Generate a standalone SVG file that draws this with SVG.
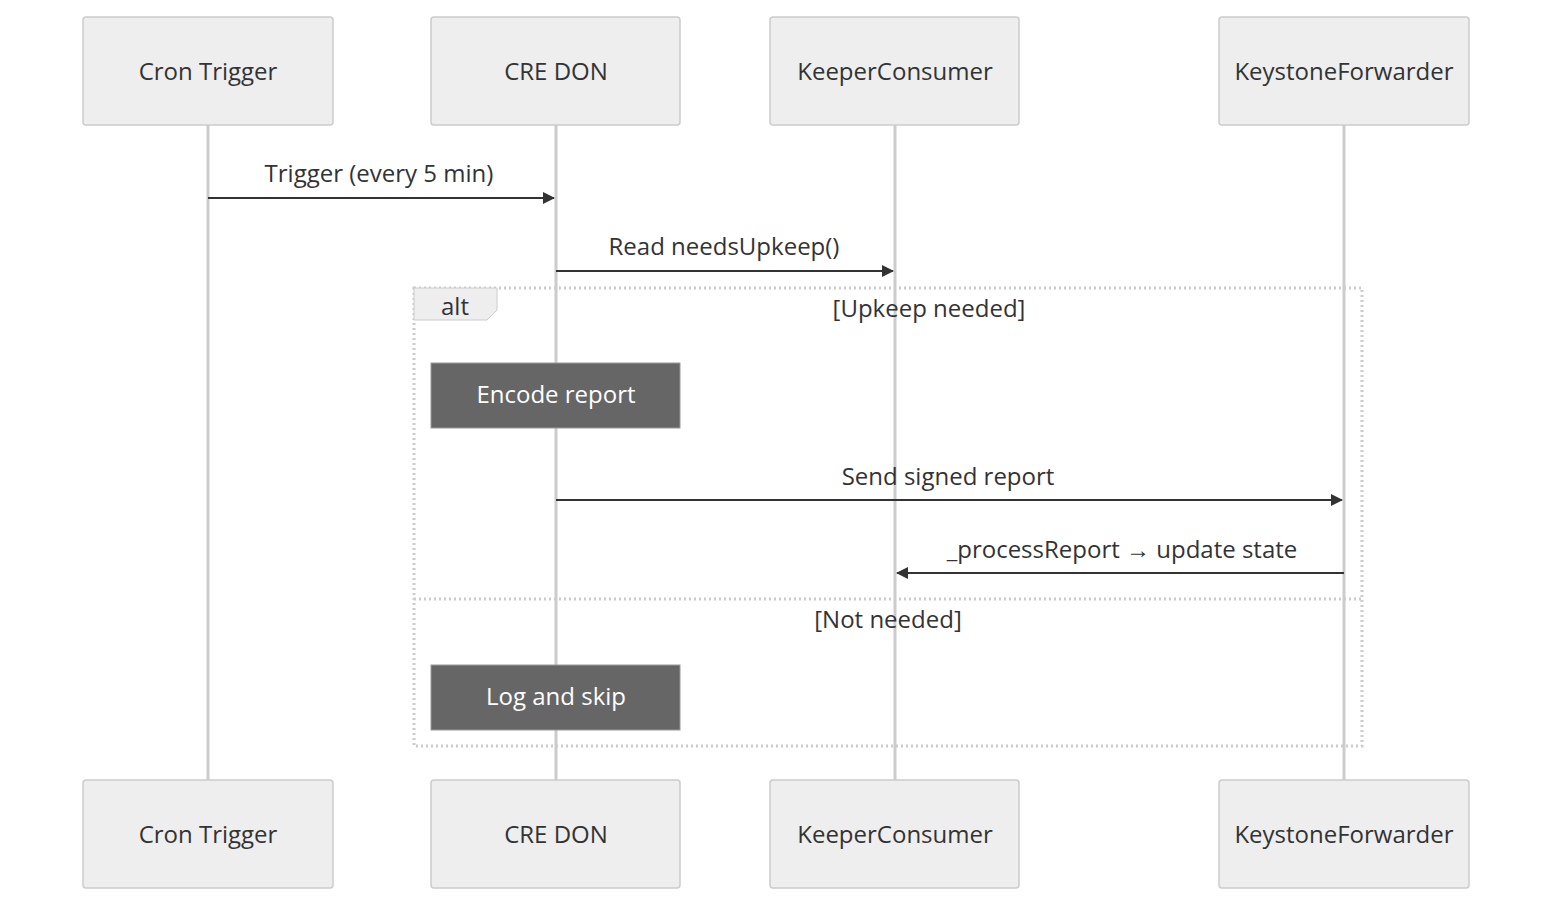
<svg xmlns="http://www.w3.org/2000/svg" width="1568" height="916" viewBox="0 0 1568 916">
<style>
.actor{fill:#eeeeee;stroke:#cccccc;stroke-width:1.5}
.life{stroke:#cccccc;stroke-width:3}
.t{font-family:"Open Sans","Liberation Sans",sans-serif;font-size:24px;fill:#333;text-anchor:middle}
.msg{stroke:#333;stroke-width:2;fill:none}
.note{fill:#666666;stroke:#999;stroke-width:1}
.nt{font-family:"Open Sans","Liberation Sans",sans-serif;font-size:24px;fill:#fff;text-anchor:middle}
.frame{fill:none;stroke:#cccccc;stroke-width:3;stroke-dasharray:2 3}
</style>
<defs><marker id="arr" viewBox="0 0 12 12" refX="11" refY="6" markerWidth="12" markerHeight="12" orient="auto" markerUnits="userSpaceOnUse"><path d="M0,0 L12,6 L0,12 z" fill="#333"/></marker></defs>
<rect width="1568" height="916" fill="#fff"/>
<g id="lifelines">
<line class="life" x1="208" y1="125" x2="208" y2="780"/>
<line class="life" x1="556" y1="125" x2="556" y2="780"/>
<line class="life" x1="895" y1="125" x2="895" y2="780"/>
<line class="life" x1="1344" y1="125" x2="1344" y2="780"/>
</g>
<g id="cron"><rect class="actor" x="83" y="17" width="250" height="108" rx="3"/><text class="t" x="208" y="80">Cron Trigger</text>
<rect class="actor" x="83" y="780" width="250" height="108" rx="3"/><text class="t" x="208" y="843">Cron Trigger</text></g>
<g id="cre"><rect class="actor" x="431" y="17" width="249" height="108" rx="3"/><text class="t" x="556" y="80">CRE DON</text>
<rect class="actor" x="431" y="780" width="249" height="108" rx="3"/><text class="t" x="556" y="843">CRE DON</text></g>
<g id="keeper"><rect class="actor" x="770" y="17" width="249" height="108" rx="3"/><text class="t" x="895" y="80">KeeperConsumer</text>
<rect class="actor" x="770" y="780" width="249" height="108" rx="3"/><text class="t" x="895" y="843">KeeperConsumer</text></g>
<g id="keystone"><rect class="actor" x="1219" y="17" width="250" height="108" rx="3"/><text class="t" x="1344" y="80">KeystoneForwarder</text>
<rect class="actor" x="1219" y="780" width="250" height="108" rx="3"/><text class="t" x="1344" y="843">KeystoneForwarder</text></g>
<g id="alt">
<rect class="frame" x="414" y="288" width="948" height="458"/>
<polygon points="414,288 497,288 497,310 487,320 414,320" fill="#eeeeee" stroke="#cccccc" stroke-width="1"/>
<text class="t" x="455" y="315">alt</text>
<text class="t" x="929" y="317">[Upkeep needed]</text>
<line class="frame" x1="414" y1="599" x2="1362" y2="599"/>
<text class="t" x="888" y="628">[Not needed]</text>
</g>
<g id="notes">
<rect class="note" x="431" y="363" width="249" height="65"/><text class="nt" x="556" y="403">Encode report</text>
<rect class="note" x="431" y="665" width="249" height="65"/><text class="nt" x="556" y="705">Log and skip</text>
</g>
<g id="connectors">
<line class="msg" x1="208" y1="198" x2="554" y2="198" marker-end="url(#arr)"/><text class="t" x="379" y="182">Trigger (every 5 min)</text>
<line class="msg" x1="556" y1="271" x2="893" y2="271" marker-end="url(#arr)"/><text class="t" x="724" y="255">Read needsUpkeep()</text>
<line class="msg" x1="556" y1="500" x2="1342" y2="500" marker-end="url(#arr)"/><text class="t" x="948" y="485">Send signed report</text>
<line class="msg" x1="1344" y1="573" x2="897" y2="573" marker-end="url(#arr)"/><text class="t" x="1122" y="558">_processReport → update state</text>
</g>
</svg>
